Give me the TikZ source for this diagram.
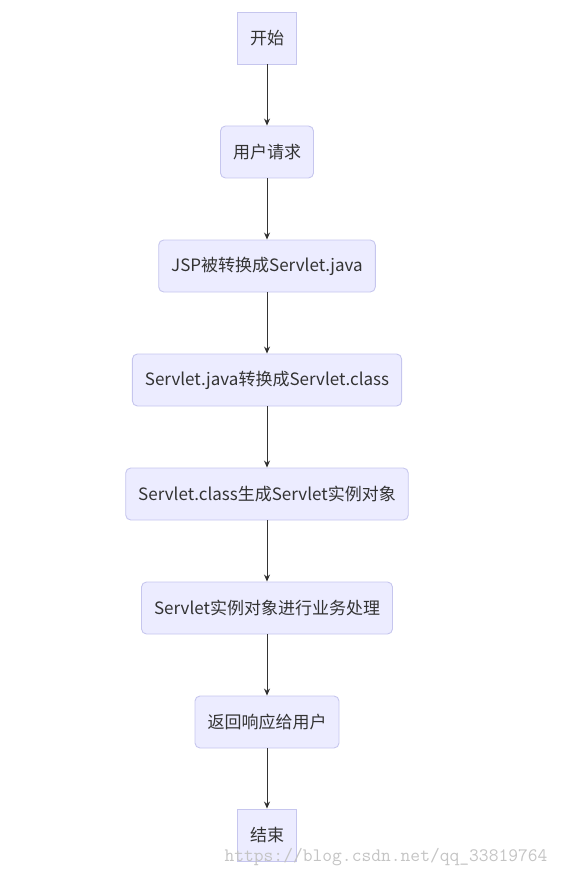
\documentclass[tikz,border=0pt]{standalone}
\usepackage{fontspec}
\setmainfont{Noto Sans CJK SC}
\usetikzlibrary{arrows.meta}

\definecolor{boxfill}{HTML}{ECECFF}
\definecolor{boxline}{HTML}{C6C6EE}
\definecolor{txt}{HTML}{333333}
\definecolor{mark}{HTML}{C4C4C4}

\tikzset{
	stepsq/.style={draw=boxline, fill=boxfill, text=txt, line width=0.9pt,
		minimum height=52pt, inner xsep=12.5pt, font=\fontsize{17}{19}\selectfont},
	steprd/.style={stepsq, rounded corners=5pt},
	flow/.style={draw=txt, line width=0.9pt, -{Stealth[length=7pt,width=6pt]}}
}

\begin{document}
\begin{tikzpicture}[x=1pt,y=-1pt]
		\useasboundingbox (0,0) rectangle (562,877);
		\draw (267,38) node [stepsq] (start) {开始};
		\draw (267,152) node [steprd] (req) {用户请求};
		\draw (267,266) node [steprd] (jsp) {JSP被转换成Servlet.java};
		\draw (267,380) node [steprd] (cls) {Servlet.java转换成Servlet.class};
		\draw (267,494) node [steprd] (inst) {Servlet.class生成Servlet实例对象};
		\draw (267,608) node [steprd] (work) {Servlet实例对象进行业务处理};
		\draw (267,722) node [steprd] (resp) {返回响应给用户};
		\draw (267,835) node [stepsq] (end) {结束};
		\path[flow]
			(start) edge (req)
			(req) edge (jsp)
			(jsp) edge (cls)
			(cls) edge (inst)
			(inst) edge (work)
			(work) edge (resp)
			(resp) edge (end);
		\draw (386,857) node [text=mark, font=\ttfamily\fontsize{19}{20}\selectfont] (wm) {https://blog.csdn.net/qq\_33819764};
	\end{tikzpicture}
\end{document}
